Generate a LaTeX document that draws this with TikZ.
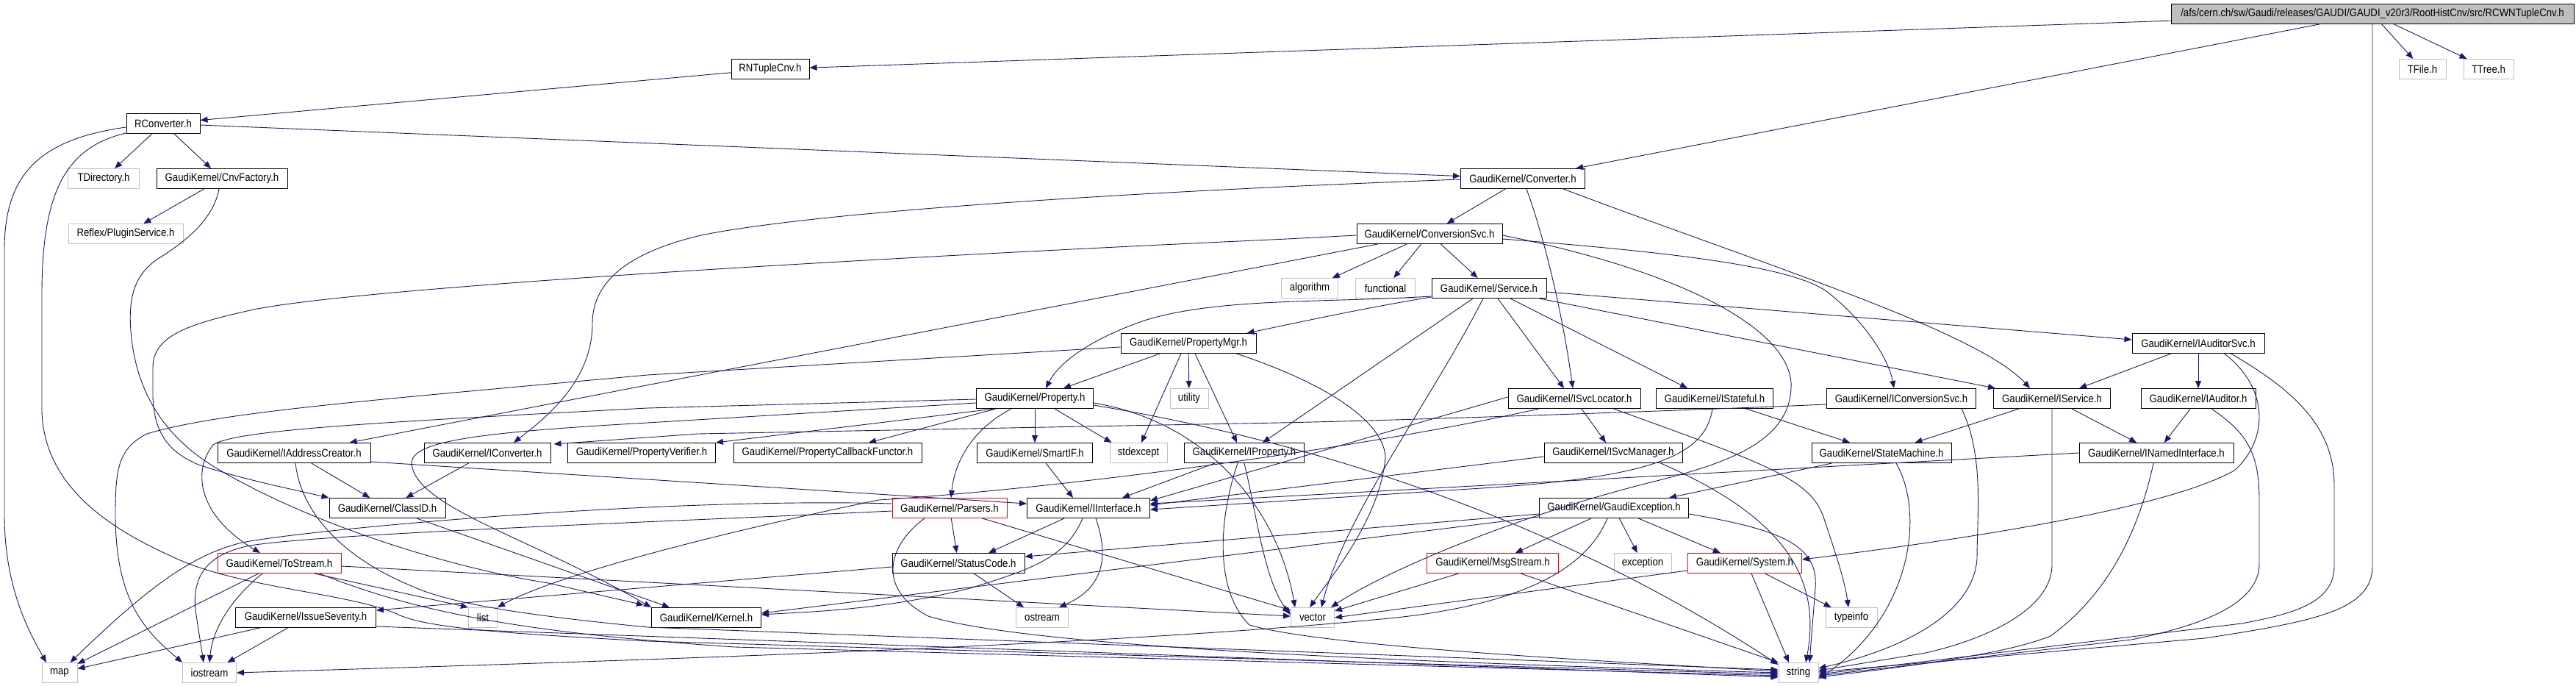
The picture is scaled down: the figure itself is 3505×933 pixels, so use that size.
\documentclass[tikz,border=0pt]{standalone}
\usepackage{fontspec}
\newfontfamily\nodefont[FakeStretch=0.88]{Liberation Sans}
\usetikzlibrary{arrows.meta,calc}
\definecolor{edgec}{HTML}{191970}
\definecolor{ngray}{HTML}{BFBFBF}
\tikzset{
 nb/.style={draw=black, fill=white, line width=1pt, minimum height=27pt, inner sep=0pt, font=\nodefont\fontsize{15}{15}\selectfont},
 ng/.style={nb, draw=ngray},
 nr/.style={nb, draw=red},
 e/.style={draw=edgec, line width=0.9pt, -{Triangle[length=10pt,width=8pt]}},
}
\begin{document}
\begin{tikzpicture}[x=1pt,y=-1pt]
\useasboundingbox (0,0) rectangle (3505,933);
% nodes
\node[nb, fill=ngray, minimum width=548pt] (root) at (3228,19) {/afs/cern.ch/sw/Gaudi/releases/GAUDI/GAUDI\_v20r3/RootHistCnv/src/RCWNTupleCnv.h};
\node[ng, minimum width=64pt] (TFile) at (3296,94) {TFile.h};
\node[ng, minimum width=68pt] (TTree) at (3386,94) {TTree.h};
\node[nb, minimum width=106pt] (RNTupleCnv) at (1048,94) {RNTupleCnv.h};
\node[nb, minimum width=100pt] (RConverter) at (222,168) {RConverter.h};
\node[ng, minimum width=97pt] (TDirectory) at (141,243) {TDirectory.h};
\node[nb, minimum width=178pt] (CnvFactory) at (302,243) {GaudiKernel/CnvFactory.h};
\node[ng, minimum width=156pt] (PluginService) at (171,318) {Reflex/PluginService.h};
\node[nb, minimum width=169pt] (Converter) at (2072,243) {GaudiKernel/Converter.h};
\node[nb, minimum width=198pt] (ConversionSvc) at (1945,318) {GaudiKernel/ConversionSvc.h};
\node[ng, minimum width=77pt] (algorithm) at (1782,392) {algorithm};
\node[ng, minimum width=81pt] (functional) at (1885,392) {functional};
\node[nb, minimum width=156pt] (Service) at (2026,392) {GaudiKernel/Service.h};
\node[nb, minimum width=184pt] (PropertyMgr) at (1617,467) {GaudiKernel/PropertyMgr.h};
\node[nb, minimum width=180pt] (IAuditorSvc) at (2991,467) {GaudiKernel/IAuditorSvc.h};
\node[nb, minimum width=159pt] (Property) at (1408,542) {GaudiKernel/Property.h};
\node[ng, minimum width=52pt] (utility) at (1618,542) {utility};
\node[nb, minimum width=180pt] (ISvcLocator) at (2142,542) {GaudiKernel/ISvcLocator.h};
\node[nb, minimum width=159pt] (IStateful) at (2333,542) {GaudiKernel/IStateful.h};
\node[nb, minimum width=203pt] (IConversionSvc) at (2587,542) {GaudiKernel/IConversionSvc.h};
\node[nb, minimum width=159pt] (IService) at (2792,542) {GaudiKernel/IService.h};
\node[nb, minimum width=156pt] (IAuditor) at (2991,542) {GaudiKernel/IAuditor.h};
\node[nb, minimum width=208pt] (IAddressCreator) at (400,616) {GaudiKernel/IAddressCreator.h};
\node[nb, minimum width=172pt] (IConverter) at (663,616) {GaudiKernel/IConverter.h};
\node[nb, minimum width=201pt] (PropertyVerifier) at (873,616) {GaudiKernel/PropertyVerifier.h};
\node[nb, minimum width=256pt] (PropertyCallbackFunctor) at (1126,616) {GaudiKernel/PropertyCallbackFunctor.h};
\node[nb, minimum width=157pt] (SmartIF) at (1408,616) {GaudiKernel/SmartIF.h};
\node[ng, minimum width=78pt] (stdexcept) at (1549,616) {stdexcept};
\node[nb, minimum width=163pt] (IProperty) at (1693,616) {GaudiKernel/IProperty.h};
\node[nb, minimum width=188pt] (ISvcManager) at (2195,616) {GaudiKernel/ISvcManager.h};
\node[nb, minimum width=190pt] (StateMachine) at (2560,616) {GaudiKernel/StateMachine.h};
\node[nb, minimum width=210pt] (INamedInterface) at (2934,616) {GaudiKernel/INamedInterface.h};
\node[nb, minimum width=158pt] (ClassID) at (527,691) {GaudiKernel/ClassID.h};
\node[nr, minimum width=156pt] (Parsers) at (1292,691) {GaudiKernel/Parsers.h};
\node[nb, minimum width=167pt] (IInterface) at (1481,691) {GaudiKernel/IInterface.h};
\node[nb, minimum width=203pt] (GaudiException) at (2196,691) {GaudiKernel/GaudiException.h};
\node[nr, minimum width=168pt] (ToStream) at (380,766) {GaudiKernel/ToStream.h};
\node[nb, minimum width=180pt] (StatusCode) at (1304,766) {GaudiKernel/StatusCode.h};
\node[nr, minimum width=179pt] (MsgStream) at (2031,766) {GaudiKernel/MsgStream.h};
\node[ng, minimum width=78pt] (exception) at (2235,766) {exception};
\node[nr, minimum width=155pt] (System) at (2374,766) {GaudiKernel/System.h};
\node[nb, minimum width=191pt] (IssueSeverity) at (416,840) {GaudiKernel/IssueSeverity.h};
\node[ng, minimum width=39pt] (list) at (657,840) {list};
\node[nb, minimum width=149pt] (Kernel) at (961,840) {GaudiKernel/Kernel.h};
\node[ng, minimum width=71pt] (ostream) at (1418,840) {ostream};
\node[ng, minimum width=59pt] (vector) at (1786,840) {vector};
\node[ng, minimum width=70pt] (typeinfo) at (2519,840) {typeinfo};
\node[ng, minimum width=48pt] (map) at (81,915) {map};
\node[ng, minimum width=73pt] (iostream) at (285,915) {iostream};
\node[ng, minimum width=54pt] (string) at (2447,915) {string};
% edges: root
\draw[e] (root) -- (RNTupleCnv);
\draw[e] (root) -- (Converter);
\draw[e] (root) -- (TFile);
\draw[e] (root) -- (TTree);
\draw[e] (root.south) -- (3228,770) .. controls (3228,830) and (3150,845) .. (3000,868) -- ($(string.east)+(0,-1)$);
% RNTupleCnv / RConverter
\draw[e] (RNTupleCnv) -- (RConverter);
\draw[e] (RConverter) -- (TDirectory);
\draw[e] (RConverter) -- (CnvFactory);
\draw[e] (RConverter) -- (Converter);
\draw[e] ($(RConverter.west)+(0,5)$) .. controls (50,190) and (6,240) .. (6,340) -- (6,700) .. controls (6,800) and (40,860) .. ($(map.north)+(-18,0)$);
\draw[e] ($(RConverter.south west)+(0,-1)$) .. controls (90,200) and (57,260) .. (57,400) -- (57,560) .. controls (60,650) and (130,710) .. (230,755) .. controls (320,800) and (470,805) .. (540,835) .. controls (580,855) and (700,862) .. (881,872) -- ($(string.west)+(0,2)$);
% CnvFactory
\draw[e] (CnvFactory) -- (PluginService);
\draw[e] ($(CnvFactory.south)+(-4,0)$) .. controls (290,300) and (250,330) .. (215,352) .. controls (180,375) and (175,410) .. (178,450) .. controls (185,540) and (230,600) .. (300,640) .. controls (420,710) and (600,770) .. (746,793) -- ($(Kernel.north west)+(-10,-3)$);
% Converter
\draw[e] (Converter) -- (ConversionSvc);
\draw[e] ($(Converter.west)+(0,1)$) .. controls (1500,262) and (1100,290) .. (954,320) .. controls (860,342) and (806,380) .. (806,440) .. controls (806,520) and (740,570) .. ($(IConverter.north)+(36,0)$);
\draw[e] ($(Converter.south)+(5,0)$) .. controls (2100,320) and (2125,420) .. ($(ISvcLocator.north)+(-2,0)$);
\draw[e] ($(Converter.south east)+(-30,0)$) .. controls (2400,360) and (2690,450) .. ($(IService.north)+(-30,0)$);
% ConversionSvc
\draw[e] (ConversionSvc) -- (algorithm);
\draw[e] (ConversionSvc) -- (functional);
\draw[e] (ConversionSvc) -- (Service);
\draw[e] ($(ConversionSvc.east)+(0,7)$) .. controls (2300,345) and (2450,365) .. (2490,400) .. controls (2540,440) and (2570,490) .. ($(IConversionSvc.north)+(-10,0)$);
\draw[e] ($(ConversionSvc.south west)+(29,0)$) -- ($(IAddressCreator.north east)+(-29,0)$);
\draw[e] ($(ConversionSvc.east)+(0,2)$) .. controls (2270,365) and (2430,440) .. (2437,520) .. controls (2440,600) and (2350,630) .. (2250,655) .. controls (2050,705) and (1880,780) .. ($(vector.north east)+(-5,0)$);
\draw[e] ($(ConversionSvc.west)+(0,2)$) -- (1751,325) .. controls (1200,350) and (500,390) .. (345,421) .. controls (260,440) and (208,455) .. (208,500) -- (208,540) .. controls (210,590) and (230,615) .. (270,632) .. controls (330,652) and (400,666) .. (ClassID.north west);
% Service
\draw[e] ($(Service.south west)+(0,-2)$) .. controls (1850,420) and (1760,440) .. ($(PropertyMgr.north east)+(-13,0)$);
\draw[e] ($(Service.west)+(0,11)$) .. controls (1800,412) and (1660,405) .. (1560,435) .. controls (1480,462) and (1440,495) .. ($(Property.north)+(15,0)$);
\draw[e] ($(Service.south)+(-22,0)$) -- ($(IProperty.north)+(25,0)$);
\draw[e] ($(Service.south)+(-8,0)$) .. controls (1950,540) and (1830,700) .. ($(vector.north)+(12,0)$);
\draw[e] ($(Service.south)+(12,0)$) -- ($(ISvcLocator.north)+(-14,0)$);
\draw[e] ($(Service.south)+(29,0)$) -- ($(IStateful.north)+(-37,0)$);
\draw[e] ($(Service.east)+(0,5)$) -- ($(IAuditorSvc.west)+(0,-5)$);
\draw[e] ($(Service.south east)+(-10,0)$) -- ($(IService.north west)+(3,0)$);
% PropertyMgr
\draw[e] (PropertyMgr) -- (Property);
\draw[e] (PropertyMgr) -- (utility);
\draw[e] ($(PropertyMgr.south)+(-10,0)$) -- ($(stdexcept.north)+(4,0)$);
\draw[e] ($(PropertyMgr.south)+(9,0)$) -- ($(IProperty.north)+(-10,0)$);
\draw[e] ($(PropertyMgr.west)+(0,5)$) -- (881,510) .. controls (500,545) and (300,560) .. (200,590) .. controls (160,610) and (157,640) .. (157,700) .. controls (157,820) and (200,860) .. (iostream.north west);
\draw[e] ($(PropertyMgr.south east)+(-27,0)$) .. controls (1800,520) and (1880,570) .. (1885,620) .. controls (1880,700) and (1815,780) .. ($(vector.north)+(-4,0)$);
% Property
\draw[e] ($(Property.south west)+(25,0)$) -- (PropertyVerifier.north east);
\draw[e] ($(Property.south west)+(27,0)$) -- ($(PropertyCallbackFunctor.north)+(56,0)$);
\draw[e] (Property) -- (SmartIF);
\draw[e] ($(Property.south)+(27,0)$) -- ($(stdexcept.north west)+(3,0)$);
\draw[e] ($(Property.south)+(-32,0)$) .. controls (1330,580) and (1300,620) .. ($(Parsers.north)+(2,0)$);
\draw[e] ($(Property.west)+(0,1)$) -- (881,555) .. controls (500,575) and (320,585) .. (290,605) .. controls (262,640) and (268,700) .. ($(ToStream.north)+(-26,0)$);
\draw[e] ($(Property.west)+(0,6)$) -- (881,575) .. controls (650,588) and (560,600) .. (560,630) .. controls (565,690) and (720,730) .. (Kernel.north west);
\draw[e] ($(Property.east)+(0,6)$) .. controls (1650,575) and (1740,700) .. ($(vector.north west)+(6,0)$);
\draw[e] ($(Property.east)+(0,9)$) .. controls (1900,620) and (2200,760) .. ($(string.north west)+(0,3)$);
% IProperty
\draw[e] ($(IProperty.south west)+(42,0)$) -- ($(IInterface.north east)+(-38,0)$);
\draw[e] ($(IProperty.south)+(-9,0)$) .. controls (1660,700) and (1650,800) .. (1700,850) .. controls (1800,880) and (2200,900) .. ($(string.west)+(0,-2)$);
\draw[e] (IProperty.south) .. controls (1710,700) and (1720,790) .. ($(vector.west)+(0,-4)$);
% SmartIF
\draw[e] ($(SmartIF.south)+(15,0)$) -- ($(IInterface.north)+(-21,0)$);
% IAddressCreator / IConverter / ClassID
\draw[e] (IAddressCreator) -- (ClassID);
\draw[e] ($(IAddressCreator.east)+(0,12)$) -- ($(IInterface.west)+(0,-6)$);
\draw[e] ($(IAddressCreator.south)+(2,0)$) .. controls (410,700) and (470,760) .. (560,797) .. controls (620,825) and (750,840) .. (881,853) -- ($(string.west)+(0,-4)$);
\draw[e] (IConverter) -- (ClassID);
\draw[e] ($(ClassID.south)+(40,0)$) -- ($(Kernel.north west)+(25,0)$);
% IInterface
\draw[e] ($(IInterface.south)+(-33,0)$) -- ($(StatusCode.north)+(41,0)$);
\draw[e] ($(IInterface.south)+(-8,0)$) .. controls (1450,760) and (1400,775) .. (1320,800) .. controls (1200,830) and (1100,832) .. ($(Kernel.east)+(0,-4)$);
\draw[e] ($(IInterface.south)+(10,0)$) .. controls (1510,760) and (1500,800) .. ($(ostream.north east)+(-13,0)$);
% StatusCode
\draw[e] ($(StatusCode.west)+(0,5)$) -- ($(IssueSeverity.east)+(0,-10)$);
\draw[e] ($(StatusCode.south)+(21,0)$) -- ($(ostream.north)+(-25,0)$);
% Parsers
\draw[e] (Parsers) -- (StatusCode);
\draw[e] ($(Parsers.south)+(-34,0)$) .. controls (1210,740) and (1190,800) .. (1263,838) .. controls (1400,880) and (1900,900) .. (string.west);
\draw[e] ($(Parsers.south east)+(-34,0)$) -- ($(vector.west)+(0,-10)$);
\draw[e] ($(Parsers.west)+(0,-6)$) .. controls (900,676) and (420,720) .. (329,738) .. controls (260,755) and (200,800) .. ($(map.north east)+(-10,0)$);
\draw[e] ($(Parsers.west)+(0,4)$) .. controls (900,710) and (450,725) .. (340,742) .. controls (275,755) and (262,790) .. (266,830) -- ($(iostream.north)+(-8,0)$);
% ISvcLocator
\draw[e] (ISvcLocator) -- (ISvcManager);
\draw[e] ($(ISvcLocator.west)+(0,-2)$) -- ($(IInterface.east)+(0,-10)$);
\draw[e] ($(ISvcLocator.south west)+(42,0)$) .. controls (1900,600) and (1500,660) .. (1196,680) .. controls (1000,720) and (760,780) .. (list.north east);
\draw[e] ($(ISvcLocator.south east)+(-37,0)$) .. controls (2400,630) and (2460,650) .. (2480,700) .. controls (2500,760) and (2510,790) .. ($(typeinfo.north)+(-4,0)$);
% ISvcManager
\draw[e] ($(ISvcManager.west)+(0,5)$) -- ($(IInterface.east)+(0,-4)$);
\draw[e] ($(ISvcManager.south east)+(-30,0)$) .. controls (2420,700) and (2480,780) .. ($(string.north)+(10,0)$);
% IStateful
\draw[e] (IStateful) -- (StateMachine);
\draw[e] ($(IStateful.south)+(-3,0)$) .. controls (2320,620) and (2250,650) .. (2000,665) -- ($(IInterface.east)+(0,2)$);
% IConversionSvc
\draw[e] ($(IConversionSvc.west)+(0,8)$) .. controls (2300,558) and (1900,572) .. (1740,575) -- (950,590) -- ($(IConverter.north east)+(4,2)$);
\draw[e] ($(IConversionSvc.south east)+(-20,0)$) .. controls (2700,620) and (2690,700) .. (2690,760) .. controls (2685,830) and (2600,880) .. ($(string.east)+(0,-6)$);
% IService / IAuditorSvc / IAuditor / INamedInterface
\draw[e] (IService) -- (INamedInterface);
\draw[e] ($(IService.south west)+(35,0)$) -- ($(StateMachine.north east)+(-50,0)$);
\draw[e] (IService.south) -- (2792,770) .. controls (2790,830) and (2700,870) .. (2620,888) -- ($(string.east)+(0,-3)$);
\draw[e] (IAuditorSvc) -- (IService);
\draw[e] (IAuditorSvc) -- (IAuditor);
\draw[e] ($(IAuditorSvc.south east)+(-55,0)$) .. controls (3090,530) and (3085,600) .. (3040,640) .. controls (2950,690) and (2700,730) .. ($(System.east)+(0,-5)$);
\draw[e] ($(IAuditorSvc.south east)+(-46,0)$) .. controls (3120,530) and (3176,580) .. (3176,660) -- (3176,770) .. controls (3176,820) and (3120,835) .. (3050,848) -- ($(string.east)+(0,2)$);
\draw[e] (IAuditor) -- (INamedInterface);
\draw[e] ($(IAuditor.south)+(18,0)$) .. controls (3060,590) and (3074,620) .. (3074,680) -- (3074,767) .. controls (3074,820) and (3000,850) .. (2900,870) -- ($(string.east)+(0,4)$);
\draw[e] (INamedInterface.west) -- ($(IInterface.east)+(0,-6)$);
\draw[e] ($(INamedInterface.south)+(-4,0)$) .. controls (2915,700) and (2880,800) .. (2790,865) .. controls (2740,885) and (2650,900) .. ($(string.east)+(0,6)$);
% StateMachine
\draw[e] ($(StateMachine.south west)+(28,0)$) -- ($(GaudiException.north east)+(-27,0)$);
\draw[e] ($(StateMachine.south)+(20,0)$) .. controls (2620,700) and (2600,840) .. ($(string.east)+(0,8)$);
% GaudiException
\draw[e] (GaudiException) -- (MsgStream);
\draw[e] (GaudiException) -- (exception);
\draw[e] (GaudiException) -- (System);
\draw[e] ($(GaudiException.east)+(0,8)$) .. controls (2420,720) and (2475,740) .. (2470,800) -- ($(string.north)+(15,0)$);
\draw[e] ($(GaudiException.south)+(-9,0)$) .. controls (2160,770) and (2080,820) .. (1900,840) .. controls (1500,880) and (800,900) .. (iostream.east);
\draw[e] ($(GaudiException.west)+(0,8)$) -- ($(StatusCode.east)+(0,-9)$);
\draw[e] ($(GaudiException.west)+(0,12)$) -- ($(Kernel.east)+(0,-6)$);
% MsgStream / System
\draw[e] (MsgStream) -- (vector);
\draw[e] ($(MsgStream.south)+(38,0)$) -- (string.north west);
\draw[e] ($(System.south)+(9,0)$) -- ($(string.north)+(-13,0)$);
\draw[e] (System) -- (typeinfo);
\draw[e] ($(System.west)+(0,10)$) -- (vector.east);
% ToStream / IssueSeverity
\draw[e] (ToStream) -- (map);
\draw[e] ($(ToStream.south)+(-23,0)$) .. controls (320,810) and (290,850) .. (iostream.north);
\draw[e] ($(ToStream.south east)+(-37,0)$) -- (list.north west);
\draw[e] ($(ToStream.east)+(0,4)$) -- ($(vector.west)+(0,-2)$);
\draw[e] ($(ToStream.south east)+(-30,0)$) .. controls (560,830) and (700,860) .. (1000,880) -- ($(string.west)+(0,4)$);
\draw[e] (IssueSeverity) -- (map);
\draw[e] (IssueSeverity) -- (iostream);
\draw[e] ($(IssueSeverity.east)+(0,12)$) -- ($(string.west)+(0,6)$);
\end{tikzpicture}
\end{document}
